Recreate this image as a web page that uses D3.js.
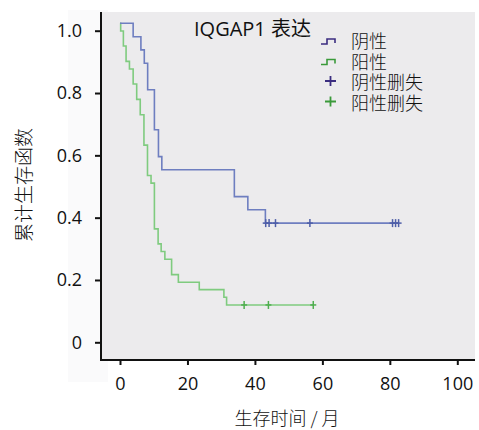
<!DOCTYPE html>
<html>
<head>
<meta charset="utf-8">
<script src="https://cdn.jsdelivr.net/npm/d3@7"></script>
<style>
  html, body { margin: 0; padding: 0; background: #fff; }
  svg { display: block; }
  text { font-family: "Open Sans", "Noto Sans CJK SC", sans-serif; fill: #111; }
  .cjk { font-family: "Noto Sans CJK SC", sans-serif; font-weight: 300; }
</style>
</head>
<body>
<div id="chart"></div>
<script>
// Kaplan-Meier curves for IQGAP1 expression (negative vs positive).
var xTicks = [0, 20, 40, 60, 80, 100];
var yTicks = [0, 0.2, 0.4, 0.6, 0.8, 1.0];
var yTickLabels = ["0", "0.2", "0.4", "0.6", "0.8", "1.0"];

// negative group: event times (months) and survival after each event
var negTimes = [3.9, 6.2, 7.2, 8.2, 10.2, 11.4, 12.4, 33.9, 37.9, 43.1];
var negSurv = [0.958, 0.917, 0.875, 0.792, 0.667, 0.583, 0.542, 0.458, 0.417, 0.375];
var negCensor = [43.2, 44.2, 46.1, 56.3, 80.8, 81.7, 82.6];

// positive group
var posTimes = [0.2, 1.0, 1.8, 2.8, 3.9, 4.95, 6.0, 7.1, 8.15, 9.2,
                10.2, 11.3, 12.2, 13.3, 15.3, 17.3, 23.5, 30.8, 31.6];
var posSurv = [0.976, 0.929, 0.881, 0.857, 0.810, 0.762, 0.714, 0.619, 0.524, 0.500,
               0.357, 0.310, 0.286, 0.262, 0.214, 0.190, 0.167, 0.143, 0.119];
var posCensor = [36.8, 44.0, 57.3];

var legendTitle = "IQGAP1 表达";
var legendLabels = ["阴性", "阳性", "阴性删失", "阳性删失"];

(function () {
  var W = 479, H = 430;
  var svg = d3.select("#chart").append("svg").attr("width", W).attr("height", H);

  var x = d3.scaleLinear().domain([0, 100]).range([120, 457.3]);
  var yAxis = d3.scaleLinear().domain([0, 1]).range([342.3, 30.7]);
  // the curves sit on a slightly taller scale than the tick labels in the original
  var y = d3.scaleLinear().domain([0, 1]).range([343, 23.3]);

  var blueLine = "#6e7ec0", greenLine = "#7fcb7f";
  var blueMark = "#4e5ea8", greenMark = "#4fae4f";

  // faint panel left of the plot, then plot background
  svg.append("rect").attr("x", 68).attr("y", 10).attr("width", 40).attr("height", 372)
    .attr("fill", "#fafafb");
  svg.append("rect").attr("x", 101).attr("y", 12).attr("width", 374).attr("height", 348)
    .attr("fill", "#ecebed");

  function stepPath(times, surv, end) {
    var pts = [[0, 1]], prev = 1;
    times.forEach(function (t, i) {
      pts.push([t, prev]);
      pts.push([t, surv[i]]);
      prev = surv[i];
    });
    pts.push([end, prev]);
    return d3.line().x(function (d) { return x(d[0]); }).y(function (d) { return y(d[1]); })(pts);
  }

  function curve(times, surv, censor, lineCol, markCol) {
    var last = surv[surv.length - 1];
    svg.append("path")
      .attr("d", stepPath(times, surv, d3.max(censor)))
      .attr("fill", "none").attr("stroke", lineCol).attr("stroke-width", 1.6);
    svg.append("g").selectAll("line").data(censor).join("line")
      .attr("x1", function (d) { return x(d); }).attr("x2", function (d) { return x(d); })
      .attr("y1", y(last) - 4).attr("y2", y(last) + 4)
      .attr("stroke", markCol).attr("stroke-width", 1.5);
    svg.append("g").selectAll("line").data(censor).join("line")
      .attr("x1", function (d) { return x(d) - 3; }).attr("x2", function (d) { return x(d) + 3; })
      .attr("y1", y(last)).attr("y2", y(last))
      .attr("stroke", markCol).attr("stroke-width", 1.5);
  }

  curve(posTimes, posSurv, posCensor, greenLine, greenMark);
  curve(negTimes, negSurv, negCensor, blueLine, blueMark);

  // axes
  var gx = svg.append("g").attr("transform", "translate(0,360)")
    .call(d3.axisBottom(x).tickValues(xTicks).tickSize(5).tickPadding(8).tickFormat(d3.format("d")));
  gx.select(".domain").attr("d", "M101,0H475").attr("stroke", "#111").attr("stroke-width", 2);
  gx.selectAll(".tick line").attr("stroke", "#111").attr("stroke-width", 2);
  gx.selectAll(".tick text").attr("font-size", 18).attr("fill", "#111")
    .attr("font-family", "Open Sans").attr("dy", "0.95em");

  var gy = svg.append("g").attr("transform", "translate(101,0)")
    .call(d3.axisLeft(yAxis).tickValues(yTicks).tickSize(6).tickPadding(13)
      .tickFormat(function (d, i) { return yTickLabels[i]; }));
  gy.select(".domain").attr("d", "M0,12V361").attr("stroke", "#111").attr("stroke-width", 2);
  gy.selectAll(".tick line").attr("stroke", "#111").attr("stroke-width", 2);
  gy.selectAll(".tick text").attr("font-size", 18).attr("fill", "#111")
    .attr("font-family", "Open Sans");

  // axis titles
  svg.append("text").attr("class", "cjk")
    .attr("transform", "translate(22,185) rotate(-90)")
    .attr("text-anchor", "middle").attr("dominant-baseline", "central")
    .attr("font-size", 19).text("累计生存函数");
  svg.append("text").attr("class", "cjk")
    .attr("x", 287).attr("y", 417)
    .attr("text-anchor", "middle").attr("dominant-baseline", "central")
    .attr("font-size", 18).text("生存时间 / 月");

  // legend
  svg.append("text").attr("x", 194).attr("y", 36)
    .attr("font-size", 20).text(legendTitle);

  var rows = [40, 60.5, 81, 101.5];
  var symCols = ["#3b2d80", "#3a9a3a", "#3b2d80", "#3a9a3a"];
  rows.forEach(function (cy, i) {
    if (i < 2) {
      svg.append("path")
        .attr("d", "M321," + (cy + 4) + "H327V" + (cy - 1) + "H335V" + (cy + 3))
        .attr("fill", "none").attr("stroke", symCols[i]).attr("stroke-width", 1.6);
    } else {
      svg.append("path")
        .attr("d", "M325," + cy + "H336M330.5," + (cy - 5) + "V" + (cy + 5))
        .attr("fill", "none").attr("stroke", symCols[i]).attr("stroke-width", 1.8);
    }
    svg.append("text").attr("class", "cjk")
      .attr("x", 351).attr("y", cy).attr("dominant-baseline", "central")
      .attr("font-size", 18).text(legendLabels[i]);
  });
})();
</script>
</body>
</html>
